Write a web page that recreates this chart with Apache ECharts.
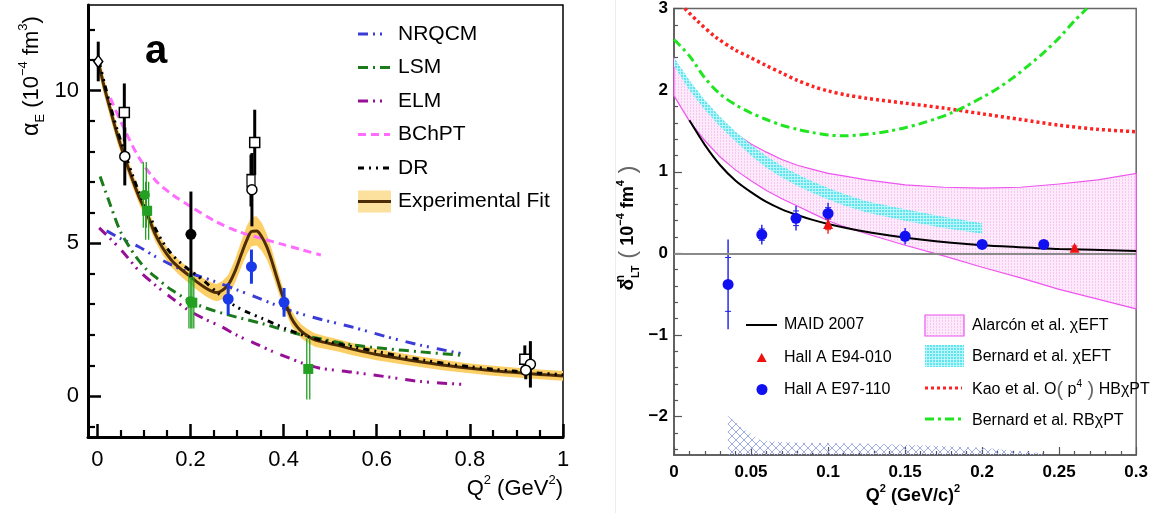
<!DOCTYPE html>
<html><head><meta charset="utf-8">
<script src="https://cdn.jsdelivr.net/npm/echarts@6/dist/echarts.min.js"></script>
<style>html,body{margin:0;padding:0;background:#fff;}#c{width:1151px;height:513px;}</style>
</head><body><div id="c"></div>
<script>
const FONT = 'Liberation Sans, Arial, Helvetica, sans-serif';

// ================= Left panel (a): alpha_E vs Q^2 =================
const leftXTicks = [0, 0.2, 0.4, 0.6, 0.8, 1];
const leftYTicks = [0, 5, 10];
const leftXMinor = [0.05,0.1,0.15,0.25,0.3,0.35,0.45,0.5,0.55,0.65,0.7,0.75,0.85,0.9,0.95];
const leftYMinor = [-1,1,2,3,4,6,7,8,9,11,12];
const leftNames = ['NRQCM','LSM','ELM','BChPT','DR','Experimental Fit'];

const fitQ = [0.002,0.006,0.015,0.028,0.042,0.058,0.075,0.09,0.107,0.124,0.14,0.159,0.177,0.195,0.213,0.231,0.245,0.256,0.268,0.281,0.295,0.31,0.321,0.331,0.342,0.353,0.364,0.374,0.385,0.396,0.407,0.417,0.428,0.439,0.453,0.467,0.49,0.517,0.55,0.6,0.65,0.7,0.75,0.8,0.85,0.9,0.95,1.0];
const fitA = [10.9,10.68,10.1,9.37,8.6,7.84,7.1,6.5,5.95,5.3,4.85,4.45,4.18,3.96,3.74,3.55,3.43,3.38,3.45,3.63,4.05,4.67,5.1,5.38,5.4,5.21,4.88,4.45,3.9,3.36,2.92,2.54,2.28,2.10,1.95,1.83,1.74,1.65,1.52,1.35,1.22,1.10,0.99,0.9,0.82,0.76,0.7,0.65];
const fitErr = [0.3,0.3,0.28,0.27,0.26,0.25,0.24,0.23,0.23,0.23,0.23,0.23,0.24,0.25,0.26,0.27,0.28,0.28,0.3,0.33,0.38,0.43,0.46,0.48,0.48,0.46,0.42,0.38,0.34,0.3,0.27,0.25,0.24,0.23,0.22,0.22,0.21,0.2,0.2,0.19,0.18,0.17,0.17,0.16,0.16,0.16,0.16,0.16];

const drQ = [0.004,0.015,0.028,0.042,0.058,0.075,0.09,0.107,0.124,0.14,0.159,0.177,0.195,0.213,0.231,0.26,0.295,0.325,0.353,0.38,0.403,0.43,0.453,0.5,0.55,0.6,0.65,0.7,0.75,0.8,0.85,0.9,0.95,1.0];
const drA = [10.95,10.25,9.5,8.75,8.0,7.25,6.65,6.1,5.5,5.05,4.65,4.38,4.15,3.95,3.74,3.35,2.95,2.72,2.54,2.36,2.21,2.05,1.93,1.76,1.6,1.45,1.3,1.17,1.05,0.95,0.87,0.8,0.74,0.69];
const nrqcmQ = [0.02,0.05,0.088,0.12,0.159,0.2,0.253,0.3,0.338,0.375,0.41,0.445,0.481,0.55,0.622,0.693,0.786];
const nrqcmA = [5.4,5.15,4.89,4.6,4.29,4.02,3.74,3.47,3.25,3.02,2.81,2.65,2.5,2.24,1.93,1.66,1.37];
const lsmQ = [0.006,0.024,0.049,0.07,0.088,0.105,0.124,0.159,0.217,0.281,0.353,0.424,0.481,0.55,0.622,0.693,0.779];
const lsmA = [7.18,6.42,5.4,4.85,4.45,4.15,3.9,3.47,2.97,2.65,2.37,2.05,1.86,1.66,1.54,1.44,1.33];
const elmQ = [0.004,0.05,0.088,0.124,0.16,0.195,0.23,0.267,0.3,0.338,0.375,0.41,0.44,0.48,0.55,0.622,0.693,0.79];
const elmA = [5.5,4.8,4.12,3.63,3.2,2.81,2.52,2.26,1.98,1.72,1.46,1.25,1.07,0.9,0.77,0.62,0.47,0.37];
const bchptQ = [0.028,0.052,0.088,0.124,0.16,0.19,0.253,0.303,0.353,0.4,0.44,0.48];
const bchptA = [9.75,8.93,7.84,7.07,6.6,6.3,5.72,5.38,5.15,4.95,4.78,4.61];

// measured points (Q^2, alpha_E, error)
const openSqQ = [0.058, 0.338, 0.918], openSqA = [9.28, 8.3, 1.2], openSqE = [0.95, 1.07, 0.45];
const openCircQ = [0.059, 0.332, 0.93, 0.92], openCircA = [7.84, 6.75, 1.03, 0.84], openCircE = [0.95, 1.2, 0.76, 0.3];
const openRectQ = [0.330], openRectA = [7.05], openRectE = [0.85];
const openDiaQ = [0.002], openDiaA = [10.95], openDiaE = [0.65];
const blackQ = [0.201], blackA = [5.29], blackE = [1.4];
const blueQ = [0.281, 0.331, 0.401], blueA = [3.17, 4.23, 3.06], blueE = [0.52, 0.56, 0.47];
const greenCircQ = [0.102, 0.2], greenCircA = [6.58, 3.1], greenCircE = [1.08, 0.9];
const greenSqQ = [0.107, 0.204, 0.453], greenSqA = [6.06, 3.05, 0.88], greenSqE = [0.95, 0.85, 1.0];

// ================= Right panel: delta_LT^n vs Q^2 =================
const rightXTicks = [0, 0.05, 0.1, 0.15, 0.2, 0.25, 0.3];
const rightYTicks = [-2, -1, 0, 1, 2, 3];
const rightNamesL = ['MAID 2007', 'Hall A E94-010', 'Hall A E97-110'];

const alarconQ = [0,0.01,0.02,0.03,0.04,0.05,0.06,0.07,0.08,0.09,0.1,0.11,0.125,0.15,0.175,0.2,0.225,0.25,0.275,0.3];
const alarconHi = [2.38,2.08,1.83,1.63,1.47,1.34,1.24,1.15,1.08,1.03,0.98,0.95,0.90,0.84,0.81,0.80,0.81,0.85,0.90,0.98];
const alarconLo = [1.93,1.62,1.38,1.18,1.02,0.89,0.77,0.67,0.58,0.49,0.40,0.33,0.24,0.10,-0.03,-0.17,-0.30,-0.44,-0.56,-0.68];
const bernardQ = [0,0.01,0.02,0.03,0.04,0.05,0.06,0.07,0.08,0.09,0.1,0.11,0.125,0.15,0.175,0.2];
const bernardHi = [2.40,2.12,1.88,1.67,1.49,1.33,1.19,1.07,0.97,0.88,0.80,0.73,0.64,0.54,0.45,0.37];
const bernardLo = [2.30,2.0,1.76,1.55,1.37,1.20,1.05,0.93,0.83,0.74,0.66,0.59,0.50,0.40,0.31,0.24];
const sysQ = [0.035,0.045,0.057,0.08,0.12,0.16,0.2,0.24];
const sysHi = [-1.99,-2.15,-2.30,-2.32,-2.33,-2.35,-2.38,-2.45];
const sysLo = [-2.47,-2.47,-2.47,-2.47,-2.47,-2.47,-2.47,-2.47];
const maidQ = [0.01,0.02,0.03,0.04,0.05,0.06,0.07,0.08,0.09,0.1,0.12,0.14,0.16,0.18,0.2,0.22,0.25,0.3];
const maidD = [1.63,1.33,1.08,0.89,0.75,0.63,0.54,0.47,0.41,0.36,0.28,0.22,0.17,0.13,0.10,0.08,0.055,0.03];
const kaoQ = [0.007,0.015,0.027,0.04,0.0485,0.06,0.07,0.08,0.091,0.1,0.112,0.125,0.15,0.175,0.2,0.225,0.25,0.275,0.3];
const kaoD = [3.0,2.85,2.65,2.49,2.41,2.30,2.21,2.12,2.04,1.99,1.94,1.90,1.84,1.78,1.71,1.64,1.57,1.52,1.49];
const rbQ = [0,0.01,0.02,0.03,0.04,0.05,0.06,0.07,0.08,0.09,0.1,0.11,0.12,0.13,0.14,0.15,0.16,0.17,0.18,0.19,0.2,0.21,0.22,0.23,0.24,0.25,0.26,0.268];
const rbD = [2.62,2.42,2.15,1.95,1.82,1.72,1.64,1.57,1.52,1.48,1.45,1.44,1.45,1.47,1.50,1.54,1.59,1.65,1.72,1.81,1.91,2.02,2.15,2.30,2.46,2.64,2.85,3.0];
const e97Q = [0.0351,0.057,0.0792,0.1,0.15,0.2,0.24];
const e97D = [-0.38,0.23,0.43,0.49,0.21,0.11,0.11];
const e97Err = [0.55,0.12,0.15,0.13,0.1,0.03,0.03];
const e97Stat = [0.33,0.07,0.09,0.07,0.05,0.02,0.02];
const e94Q = [0.1,0.26];
const e94D = [0.36,0.07];
const e94Err = [0.12,0.03];
const e94Stat = [0.07,0.02];

// ---------------- helpers ----------------
function pts(q, v){ return q.map((x,i)=>[x, v[i]]); }
function pattern(w, h, draw){
  const c = document.createElement('canvas'); c.width=w; c.height=h;
  const ctx = c.getContext('2d'); draw(ctx); return {image:c, repeat:'repeat'};
}
const pinkPat = pattern(3,3,ctx=>{ctx.fillStyle='#fdeafb';ctx.fillRect(0,0,3,3);ctx.fillStyle='#f7c6f2';ctx.fillRect(0,0,1,1);ctx.fillRect(0,2,1,1);});
const cyanPat = pattern(3,3,ctx=>{ctx.fillStyle='#62e4ee';ctx.fillRect(0,0,3,3);ctx.fillStyle='#b9f5f9';ctx.fillRect(2,0,1,3);ctx.fillRect(0,2,3,1);});
const hatchPat = pattern(8,8,ctx=>{ctx.strokeStyle='#9fabe9';ctx.lineWidth=1;ctx.beginPath();ctx.moveTo(0,0);ctx.lineTo(8,8);ctx.moveTo(8,0);ctx.lineTo(0,8);ctx.stroke();});

function lineS(name, q, v, color, dash, width, xi, yi, z){
  return {type:'line', name, xAxisIndex:xi, yAxisIndex:yi, data:pts(q,v), symbol:'none', smooth:0.3,
    silent:true, z:z||3, lineStyle:{color, width, type:dash||'solid', cap:'butt'}};
}
function bandS(q, lo, hi, fill, stroke, xi, yi, z){
  return {type:'custom', xAxisIndex:xi, yAxisIndex:yi, silent:true, z, data:[[q[0], lo[0]]],
    renderItem(params, api){
      const p = [];
      for (let i=0;i<q.length;i++) p.push(api.coord([q[i], hi[i]]));
      for (let i=q.length-1;i>=0;i--) p.push(api.coord([q[i], lo[i]]));
      return {type:'polygon', shape:{points:p}, style:{fill, stroke: stroke||null, lineWidth: stroke?1.2:0}};
    }};
}
function errS(q, v, e, color, width, xi, yi, opts){
  opts = opts || {};
  return {type:'custom', xAxisIndex:xi, yAxisIndex:yi, silent:true, z: opts.z||4,
    data: q.map((x,i)=>[x, v[i]-e[i], v[i]+e[i], opts.stat? v[i]-opts.stat[i]:0, opts.stat? v[i]+opts.stat[i]:0]),
    renderItem(params, api){
      const x = api.value(0);
      const a = api.coord([x, api.value(1)]), b = api.coord([x, api.value(2)]);
      const ch = [];
      (opts.double ? [-1.5, 1.5] : [0]).forEach(o=>ch.push({type:'line', shape:{x1:a[0]+o,y1:a[1],x2:b[0]+o,y2:b[1]}, style:{stroke:color, lineWidth:width}}));
      if (opts.stat){ [3,4].forEach(k=>{ const p = api.coord([x, api.value(k)]); ch.push({type:'line', shape:{x1:p[0]-3,y1:p[1],x2:p[0]+3,y2:p[1]}, style:{stroke:color, lineWidth:1}}); }); }
      return {type:'group', children:ch};
    }};
}
function scatS(q, v, symbol, size, color, border, xi, yi, z){
  return {type:'scatter', xAxisIndex:xi, yAxisIndex:yi, silent:true, z:z||5, data:pts(q,v), symbol, symbolSize:size,
    itemStyle:{color, borderColor:border||color, borderWidth:border?1.5:0, opacity:1}};
}
function axisPair(gridIndex, pos, min, max, major, minor, bigLen, smallLen, color, lineW, label){
  return [
    {type:'value', gridIndex, position:pos, min, max, splitLine:{show:false},
     axisLine:{show:true, onZero:false, lineStyle:{color, width:lineW}},
     axisTick:{show:true, inside:true, length:bigLen, customValues:major, lineStyle:{color, width:Math.max(1.2,lineW-0.5)}},
     axisLabel:Object.assign({customValues:major, color:'#000', fontFamily:FONT}, label)},
    {type:'value', gridIndex, position:pos, offset:0, min, max, splitLine:{show:false}, axisLine:{show:false, onZero:false},
     axisTick:{show:true, inside:true, length:smallLen, customValues:minor, lineStyle:{color, width:Math.max(1.2,lineW-0.8)}},
     axisLabel:{show:false}}
  ];
}
const rightXMinor = []; for (let i=1;i<30;i++) if (i%5) rightXMinor.push(+(i*0.01).toFixed(2));
const rightYMinor = []; for (let i=-12;i<=15;i++) if (i%5) rightYMinor.push(+(i*0.2).toFixed(1));

const LX = 0, LY = 0, RX = 2, RY = 2;
const dNR = [10,5,2,5,2,8], dLSM = [10,5,2,5], dELM = [10,5,2,5,2,8], dBCh = [8,5], dDR = [6,5,2,5,2,5];
const cNR = '#3b3bd8', cLSM = '#1b7a1b', cELM = '#960f96', cBCh = '#ff6cff', cDR = '#000', cFit = '#4e2c05', cBand = '#fbcf66';

const fitLo = fitA.map((v,i)=>v-fitErr[i]), fitHi = fitA.map((v,i)=>v+fitErr[i]);

const series = [
  bandS(fitQ, fitLo, fitHi, cBand, null, LX, LY, 1),
  lineS(leftNames[0], nrqcmQ, nrqcmA, cNR, dNR, 3, LX, LY, 2),
  lineS(leftNames[1], lsmQ, lsmA, cLSM, dLSM, 3, LX, LY, 2),
  lineS(leftNames[2], elmQ, elmA, cELM, dELM, 3, LX, LY, 2),
  lineS(leftNames[3], bchptQ, bchptA, cBCh, dBCh, 3, LX, LY, 2),
  lineS(leftNames[5], fitQ, fitA, cFit, 'solid', 3, LX, LY, 3),
  lineS(leftNames[4], drQ, drA, cDR, dDR, 3, LX, LY, 3),
  errS(greenCircQ, greenCircA, greenCircE, '#22a022', 1.3, LX, LY, {double:true}),
  errS(greenSqQ, greenSqA, greenSqE, '#22a022', 1.3, LX, LY, {double:true}),
  errS(blueQ, blueA, blueE, '#1a3ae8', 3, LX, LY),
  errS(blackQ, blackA, blackE, '#000', 3, LX, LY),
  errS(openSqQ, openSqA, openSqE, '#000', 3, LX, LY),
  errS(openCircQ, openCircA, openCircE, '#000', 3, LX, LY),
  errS(openRectQ, openRectA, openRectE, '#000', 3, LX, LY),
  errS(openDiaQ, openDiaA, openDiaE, '#000', 3, LX, LY),
  scatS(greenCircQ, greenCircA, 'circle', 10, '#22a022', null, LX, LY),
  scatS(greenSqQ, greenSqA, 'rect', 10, '#22a022', null, LX, LY),
  scatS(blueQ, blueA, 'circle', 11, '#1a3ae8', null, LX, LY),
  scatS(blackQ, blackA, 'circle', 11, '#000', null, LX, LY),
  scatS(openRectQ, openRectA, 'rect', [8,12], '#fff', '#000', LX, LY),
  scatS(openSqQ, openSqA, 'rect', 10, '#fff', '#000', LX, LY),
  scatS(openCircQ, openCircA, 'circle', 10, '#fff', '#000', LX, LY),
  scatS(openDiaQ, openDiaA, 'diamond', [9,12], '#fff', '#000', LX, LY),

  bandS(alarconQ, alarconLo, alarconHi, pinkPat, '#ee55ee', RX, RY, 1),
  bandS(bernardQ, bernardLo, bernardHi, cyanPat, null, RX, RY, 2),
  bandS(sysQ, sysLo, sysHi, hatchPat, null, RX, RY, 1),
  Object.assign(lineS(rightNamesL[0], maidQ, maidD, '#000', 'solid', 2, RX, RY, 3), {
    markLine:{silent:true, symbol:'none', label:{show:false}, animation:false,
      lineStyle:{color:'#8a8a8a', width:2, type:'solid'}, data:[{yAxis:0}]}}),
  lineS('Kao et al.', kaoQ, kaoD, '#ff2222', [3,3], 3.5, RX, RY, 3),
  lineS('Bernard et al. RB', rbQ, rbD, '#1fe61f', [9,4,3,4], 3, RX, RY, 3),
  errS(e97Q, e97D, e97Err, '#1a1aee', 1.4, RX, RY, {stat:e97Stat}),
  errS(e94Q, e94D, e94Err, '#ee2222', 1.4, RX, RY, {stat:e94Stat}),
  scatS(e97Q, e97D, 'circle', 11, '#1010f0', null, RX, RY),
  scatS(e94Q, e94D, 'triangle', 10, '#ee1111', null, RX, RY)
];

const lx = axisPair(0, 'bottom', -0.02, 1.0, leftXTicks, leftXMinor, 13, 7, '#000', 3, {fontSize:22, margin:12});
const ly = axisPair(0, 'left', -1.35, 12.8, leftYTicks, leftYMinor, 13, 7, '#000', 3, {fontSize:22, margin:9});
const rx = axisPair(1, 'bottom', 0, 0.3, rightXTicks, rightXMinor, 8, 4, '#555', 1.5, {fontSize:17, fontWeight:'bold', margin:9});
const ry = axisPair(1, 'left', -2.47, 3, rightYTicks, rightYMinor, 8, 4, '#555', 1.5, {fontSize:17, fontWeight:'bold', margin:6, formatter:v=>String(v).replace('-', '\u2212')});

// rich text styles
function rs(size, weight){
  const base = {fontFamily:FONT, fontWeight:weight||'normal', fill:'#000', color:'#000'};
  return {
    n: Object.assign({fontSize:size, lineHeight:size+8}, base),
    g: Object.assign({fontSize:size+1, lineHeight:size+8}, base),
    sup: Object.assign({fontSize:Math.round(size*0.6), lineHeight:Math.round(size*0.6), verticalAlign:'top'}, base),
    sub: Object.assign({fontSize:Math.round(size*0.6), lineHeight:Math.round(size*0.95), verticalAlign:'bottom'}, base),
    supn: Object.assign({fontSize:Math.round(size*0.65), lineHeight:Math.round(size*0.65), verticalAlign:'top', width:1}, base),
    p: Object.assign({fontSize:size+6, lineHeight:size+8}, base, {fontWeight:'normal', fill:'#666', color:'#666'})
  };
}
function txt(x, y, text, rich, align, rot){
  return {type:'text', x, y, rotation:rot||0, silent:true, z:100,
    style:{text, rich, align:align||'center', verticalAlign:'middle', textAlign:align||'center', textVerticalAlign:'middle'}};
}

const graphics = [
  {type:'line', silent:true, shape:{x1:615.5,y1:0,x2:615.5,y2:513}, style:{stroke:'#ececec', lineWidth:1}},
  txt(32, 76, '{g|α}{sub|E}{n| (10}{sup|\u22124}{n| fm}{sup|3}{n|)}', rs(22), 'center', Math.PI/2),
  txt(563, 489, '{n|Q}{sup|2}{n| (GeV}{sup|2}{n|)}', rs(22), 'right'),
  {type:'text', x:156, y:52, silent:true, style:{text:'a', font:'bold 40px '+FONT, fill:'#000', align:'center', verticalAlign:'middle', textAlign:'center', textVerticalAlign:'middle'}},
  txt(628, 228, '{g|δ}{supn|n}{sub|LT}{p| (}{n| 10}{sup|\u22124}{n| fm}{sup|4}{p| )}', rs(18,'bold'), 'center', Math.PI/2),
  txt(913, 496, '{n|Q}{sup|2}{n| (GeV/c)}{sup|2}', rs(18,'bold'), 'center')
];
// left legend
const legDash = [dNR, dLSM, dELM, dBCh, dDR], legCol = [cNR, cLSM, cELM, cBCh, cDR];
for (let i=0;i<6;i++){
  const y = 34 + 33.5*i;
  if (i<5) graphics.push({type:'line', silent:true, shape:{x1:358,y1:y,x2:390,y2:y}, style:{stroke:legCol[i], lineWidth:3, lineDash:legDash[i]}});
  else {
    graphics.push({type:'rect', silent:true, shape:{x:358,y:y-11,width:33,height:22}, style:{fill:'#fbe09e'}});
    graphics.push({type:'line', silent:true, shape:{x1:358,y1:y,x2:391,y2:y}, style:{stroke:cFit, lineWidth:3}});
  }
  graphics.push({type:'text', silent:true, x:398, y:y, style:{text:leftNames[i], font:'21px '+FONT, fill:'#000', align:'left', verticalAlign:'middle', textAlign:'left', textVerticalAlign:'middle'}});
}
// right legend, left column
graphics.push({type:'line', silent:true, shape:{x1:746,y1:325,x2:777,y2:325}, style:{stroke:'#000', lineWidth:2}});
graphics.push({type:'polygon', silent:true, shape:{points:[[761.7,353],[756.7,362],[766.7,362]]}, style:{fill:'#ee1111'}});
graphics.push({type:'circle', silent:true, shape:{cx:762,cy:389.5,r:5.5}, style:{fill:'#1010f0'}});
[325, 358, 390].forEach((y,i)=>graphics.push({type:'text', silent:true, x:784, y, style:{text:rightNamesL[i], font:'16px '+FONT, fill:'#000', align:'left', verticalAlign:'middle', textAlign:'left', textVerticalAlign:'middle'}}));
// right legend, right column
graphics.push({type:'rect', silent:true, shape:{x:925,y:315,width:39,height:21}, style:{fill:pinkPat, stroke:'#ee55ee', lineWidth:1.2}});
graphics.push({type:'rect', silent:true, shape:{x:925,y:345,width:39,height:22}, style:{fill:cyanPat}});
graphics.push({type:'line', silent:true, shape:{x1:925,y1:388,x2:962,y2:388}, style:{stroke:'#ff2222', lineWidth:3, lineDash:[3,3]}});
graphics.push({type:'line', silent:true, shape:{x1:925,y1:419,x2:962,y2:419}, style:{stroke:'#1fe61f', lineWidth:3, lineDash:[9,4,3,4]}});
const legR = rs(16);
legR.n.lineHeight = 22; legR.p = Object.assign({}, legR.n, {fontSize:20, fill:'#666', color:'#666'});
graphics.push(txt(972, 326, '{n|Alarcón et al. χEFT}', legR, 'left'));
graphics.push(txt(972, 357, '{n|Bernard et al. χEFT}', legR, 'left'));
graphics.push(txt(972, 390, '{n|Kao et al. O}{p|(}{n| p}{sup|4}{p| )}{n| HBχPT}', legR, 'left'));
graphics.push(txt(972, 421, '{n|Bernard et al. RBχPT}', legR, 'left'));

const chart = echarts.init(document.getElementById('c'), null, {renderer:'canvas'});
chart.setOption({
  animation:false,
  backgroundColor:'#fff',
  grid:[
    {left:88, top:5, width:475, height:432, show:true, borderColor:'#000', borderWidth:1.5, backgroundColor:'transparent'},
    {left:674, top:3, width:470, height:452, show:true, borderColor:'#666', borderWidth:1.5, backgroundColor:'transparent'}
  ],
  xAxis:[lx[0], lx[1], rx[0], rx[1]],
  yAxis:[ly[0], ly[1], ry[0], ry[1]],
  series,
  graphic:{elements:graphics}
});
</script></body></html>
